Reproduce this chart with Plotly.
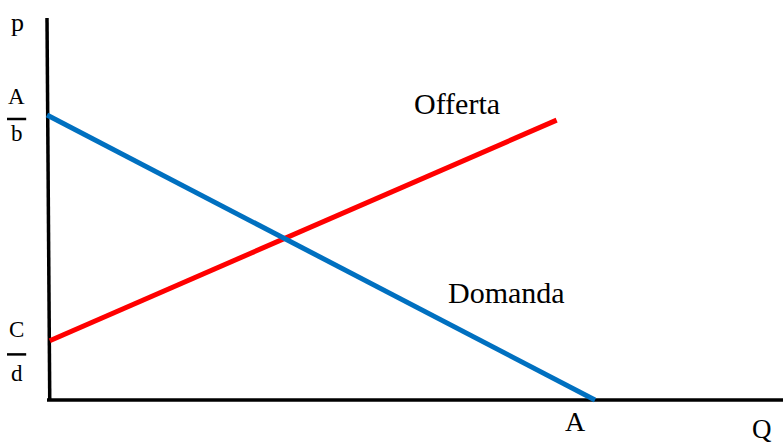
import plotly.graph_objects as go

# domanda: p = A/b - Q/b ; offerta: p = C/d + Q/d
A = 10.0
A_su_b = 5.0
C_su_d = 1.04

q_domanda = [0.0, A]
p_domanda = [A_su_b, 0.0]

q_offerta = [0.05, 9.3]
p_offerta = [C_su_d, 4.91]

# assi cartesiani disegnati a mano
q_asse_x = [0.0, 13.45]
p_asse_x = [0.0, 0.0]
q_asse_y = [0.0, 0.05]
p_asse_y = [6.70, 0.0]

serif = "Liberation Serif, Times New Roman, serif"

fig = go.Figure()

fig.add_trace(go.Scatter(x=q_asse_y, y=p_asse_y, mode='lines',
                         line=dict(color='black', width=3.5), hoverinfo='skip'))
fig.add_trace(go.Scatter(x=q_asse_x, y=p_asse_x, mode='lines',
                         line=dict(color='black', width=3.5), hoverinfo='skip'))
fig.add_trace(go.Scatter(x=q_offerta, y=p_offerta, mode='lines', name='Offerta',
                         line=dict(color='#FF0000', width=5)))
fig.add_trace(go.Scatter(x=q_domanda, y=p_domanda, mode='lines', name='Domanda',
                         line=dict(color='#0070C0', width=5)))

# etichette
labels = [
    dict(x=-0.53, y=6.62, text='p', size=26),
    dict(x=-0.55, y=A_su_b + 0.32, text='A', size=23),
    dict(x=-0.55, y=A_su_b - 0.32, text='b', size=23),
    dict(x=-0.55, y=C_su_d + 0.20, text='C', size=23),
    dict(x=-0.55, y=C_su_d - 0.57, text='d', size=23),
    dict(x=A - 0.35, y=-0.37, text='A', size=28),
    dict(x=13.05, y=-0.50, text='Q', size=27),
    dict(x=7.48, y=5.20, text='Offerta', size=30),
    dict(x=8.38, y=1.88, text='Domanda', size=30),
]
for lb in labels:
    fig.add_annotation(x=lb['x'], y=lb['y'], text=lb['text'], showarrow=False,
                       xref='x', yref='y', font=dict(family=serif, size=lb['size'], color='black'))

# linee di frazione
for yv in [A_su_b - 0.07, C_su_d - 0.24]:
    fig.add_shape(type='line', x0=-0.73, x1=-0.38, y0=yv, y1=yv,
                  line=dict(color='black', width=2.5))

fig.update_layout(
    width=783, height=443,
    margin=dict(l=0, r=0, t=0, b=0),
    paper_bgcolor='white', plot_bgcolor='white',
    showlegend=False,
    xaxis=dict(range=[-0.8577, 13.431], visible=False, fixedrange=True),
    yaxis=dict(range=[-0.7544, 7.0175], visible=False, fixedrange=True),
)

fig.write_html("out.html", config={'displayModeBar': False},
               post_script="document.body.style.margin='0px';")
